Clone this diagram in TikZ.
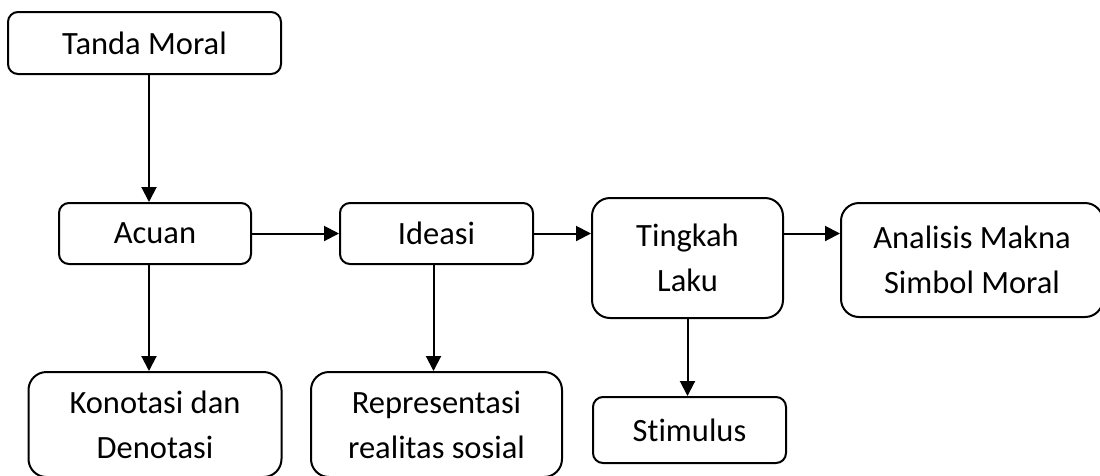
\documentclass[tikz,border=0pt]{standalone}
\usepackage{fontspec}
\setmainfont{Carlito}[Ligatures=NoCommon]
\usepackage{tikz}
\usetikzlibrary{arrows.meta, positioning}

\begin{document}
\begin{tikzpicture}[
    >={Triangle[length=15pt, width=15pt]},
    line width=2pt,
    smallbox/.style={draw, rectangle, rounded corners=10pt, align=center, font=\fontsize{32.5}{45}\selectfont},
    bigbox/.style={draw, rectangle, rounded corners=18pt, align=center, font=\fontsize{32.5}{45}\selectfont},
    flow/.style={->, line width=2pt}
]
\useasboundingbox (0,0) rectangle (1100pt,-475pt);

% Top node
\node[smallbox, minimum width=273pt, minimum height=62pt] (tanda) at (144.5pt,-43pt) {Tanda Moral};

% Middle row
\node[smallbox, minimum width=192pt, minimum height=61pt, below=127pt of tanda, xshift=10.5pt] (acuan) {Acuan};
\node[smallbox, minimum width=193pt, minimum height=61pt, right=87pt of acuan] (ideasi) {Ideasi};
\node[bigbox, minimum width=191pt, minimum height=120pt, right=57pt of ideasi, yshift=-24.5pt] (tingkah) {Tingkah\\ Laku};
\node[bigbox, minimum width=262pt, minimum height=114pt, right=56pt of tingkah, yshift=-2pt] (analisis) {Analisis Makna\\ Simbol Moral};

% Bottom row
\node[bigbox, minimum width=253pt, minimum height=105pt, below=106pt of acuan] (konotasi) {Konotasi dan\\ Denotasi};
\node[bigbox, minimum width=251pt, minimum height=105pt, below=106pt of ideasi] (representasi) {Representasi\\ realitas sosial};
\node[smallbox, minimum width=193pt, minimum height=66pt, below=77pt of tingkah, xshift=2pt] (stimulus) {Stimulus};

% Arrows
\draw[flow] ([xshift=-6pt]acuan.north |- tanda.south) -- ([xshift=-6pt]acuan.north);
\draw[flow] (acuan.east) -- (ideasi.west);
\draw[flow] (ideasi.east) -- (ideasi.east -| tingkah.west);
\draw[flow] (tingkah.east |- ideasi.east) -- (analisis.west |- ideasi.east);
\draw[flow] ([xshift=-6pt]acuan.south) -- ([xshift=-6pt]acuan.south |- konotasi.north);
\draw[flow] ([xshift=-3pt]ideasi.south) -- ([xshift=-3pt]ideasi.south |- representasi.north);
\draw[flow] (tingkah.south) -- (tingkah.south |- stimulus.north);

\end{tikzpicture}
\end{document}
